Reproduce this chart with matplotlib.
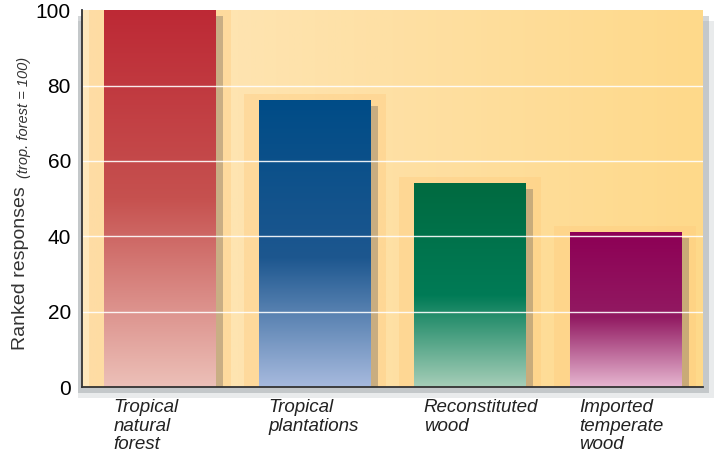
import numpy as np
import matplotlib.pyplot as plt
from matplotlib.colors import LinearSegmentedColormap
from matplotlib.patches import Rectangle

categories = ["Tropical\nnatural\nforest", "Tropical\nplantations",
              "Reconstituted\nwood", "Imported\ntemperate\nwood"]
values = [100, 76, 54, 41]
# (bottom, middle, top) colours per bar
bar_colors = [
    ("#ecc0b8", "#c6514f", "#bd2935"),
    ("#a7bade", "#1d578f", "#004c87"),
    ("#a6ceb8", "#007b56", "#006a40"),
    ("#e6b6d0", "#921a62", "#8d0055"),
]
yticks = [0, 20, 40, 60, 80, 100]

plt.rcParams['font.family'] = ['Liberation Sans Narrow', 'Liberation Sans', 'DejaVu Sans']

fig = plt.figure(figsize=(7.15, 4.62), dpi=100)
fig.patch.set_facecolor('white')
ax = fig.add_axes([0.1147, 0.162, 0.8683, 0.816])
ax.set_zorder(2)

# frame shadow
for off, a in [(0.008, 0.30), (0.016, 0.15)]:
    fig.patches.append(Rectangle((0.1147 - 0.006, 0.162 - off * 1.5), 0.8683 + 0.006 + off, 0.816,
                                 transform=fig.transFigure, facecolor='#6f7a80',
                                 alpha=a, zorder=-1, lw=0))

width = 0.716
ax.set_xlim(-0.5, 3.5)
ax.set_ylim(0, 100)

# background gradient
bg = LinearSegmentedColormap.from_list('bg', ['#fee8bc', '#fee0a4', '#ffd98a'])
ax.imshow(np.linspace(0, 1, 256)[None, :], cmap=bg, aspect='auto',
          extent=(-0.5, 3.5, 0, 100), zorder=0)

for i, (v, cols) in enumerate(zip(values, bar_colors)):
    x0 = i - width / 2
    # glow
    ax.add_patch(Rectangle((x0 - 0.1, 0), width + 0.2, v + 1.8,
                           color='#ffc97a', alpha=0.35, zorder=1.5, lw=0))
    # shadow
    ax.add_patch(Rectangle((x0 + 0.05, 0), width, v - 1.5,
                           color='#8a7a66', alpha=0.45, zorder=2, lw=0))
    mid = 0.5 if i == 0 else 0.45
    cmap = LinearSegmentedColormap.from_list('b%d' % i,
                                             [(0, cols[0]), (mid, cols[1]), (1, cols[2])])
    ax.imshow(np.linspace(0, 1, 256)[:, None], cmap=cmap, aspect='auto',
              origin='lower', extent=(x0, x0 + width, 0, v), zorder=3)
    ax.text(x0 + 0.06, -3.2, categories[i], ha='left', va='top', style='italic',
            fontsize=13.5, linespacing=1.12, color='#222222')

# white grid lines visible over bars
for y in yticks[1:-1]:
    ax.axhline(y, color='white', lw=1.0, alpha=0.9, zorder=4)

ax.set_xticks([])
ax.set_yticks(yticks)
ax.set_yticklabels([str(t) for t in yticks], fontsize=15)
ax.tick_params(axis='y', length=0, pad=8)
for s in ['top', 'right']:
    ax.spines[s].set_visible(False)
for s in ['left', 'bottom']:
    ax.spines[s].set_color('#333333')
    ax.spines[s].set_linewidth(1.3)
    ax.spines[s].set_zorder(5)

fig.text(0.028, 0.42, "Ranked responses", rotation=90, ha='center', va='center',
         fontsize=14, color='#333333')
fig.text(0.033, 0.745, "(trop. forest = 100)", rotation=90, ha='center', va='center',
         fontsize=10.5, style='italic', color='#333333')

fig.savefig('out.png', dpi=100)
